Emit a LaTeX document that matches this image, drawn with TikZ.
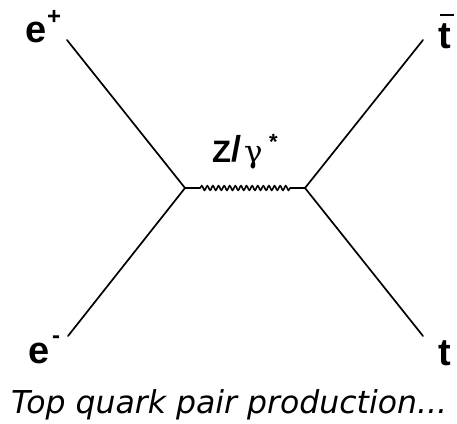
\documentclass[tikz,border=0pt]{standalone}
\usepackage{fontspec}
\setmainfont{Liberation Sans}
\newfontfamily\capfont{DejaVu Sans}
\newfontfamily\gamfont{DejaVu Serif}
\usetikzlibrary{decorations.pathmorphing}
\begin{document}
\begin{tikzpicture}[x=1pt,y=-1pt,
  line/.style={line width=1.7pt,line cap=round},
  lab/.style={inner sep=0pt,anchor=base west,font=\fontsize{38}{40}\selectfont\bfseries},
  sup/.style={inner sep=0pt,anchor=base west,font=\fontsize{24}{26}\selectfont\bfseries},
  boson/.style={line width=1.6pt,decorate,decoration={snake,segment length=5.6pt,amplitude=2.2pt,pre length=15pt,post length=13pt}}]
\useasboundingbox (0,0) rectangle (457,423);
\coordinate (v1) at (185,188);
\coordinate (v2) at (305,188);
\coordinate (epin) at (67,40);
\coordinate (emin) at (68,336);
\coordinate (tbar) at (423,40);
\coordinate (tq) at (423,336);
\draw[line] (epin) -- (v1);
\draw[line] (emin) -- (v1);
\draw[line] (tbar) -- (v2);
\draw[line] (tq) -- (v2);
\draw[boson] (v1) -- (v2);
\node[lab] (le) at (25,42) {e};
\node[sup] (lep) at (47,24) {+};
\node[lab] (lem) at (28,363) {e};
\node[sup] (lemm) at (52,343) {-};
\node[lab] (lt) at (438,48) {t};
\draw[line width=2pt] (440,15) -- (454,15);
\node[lab] (ltt) at (438,365) {t};
\node[inner sep=0pt,anchor=base west,font=\fontsize{31}{33}\selectfont\bfseries] (lz) at (212,162) {Z\raisebox{1pt}{\fontsize{36}{38}\selectfont/}\hspace{3pt}{\gamfont\mdseries\fontsize{31}{33}\selectfont γ}};
\node[inner sep=0pt,anchor=base west,font=\fontsize{22}{24}\selectfont\bfseries] (ls) at (269,149) {*};
\node[inner sep=0pt,anchor=base,font=\fontsize{31.5}{33}\selectfont\capfont\itshape] (cap) at (229,413) {Top quark pair production...};
\end{tikzpicture}
\end{document}
